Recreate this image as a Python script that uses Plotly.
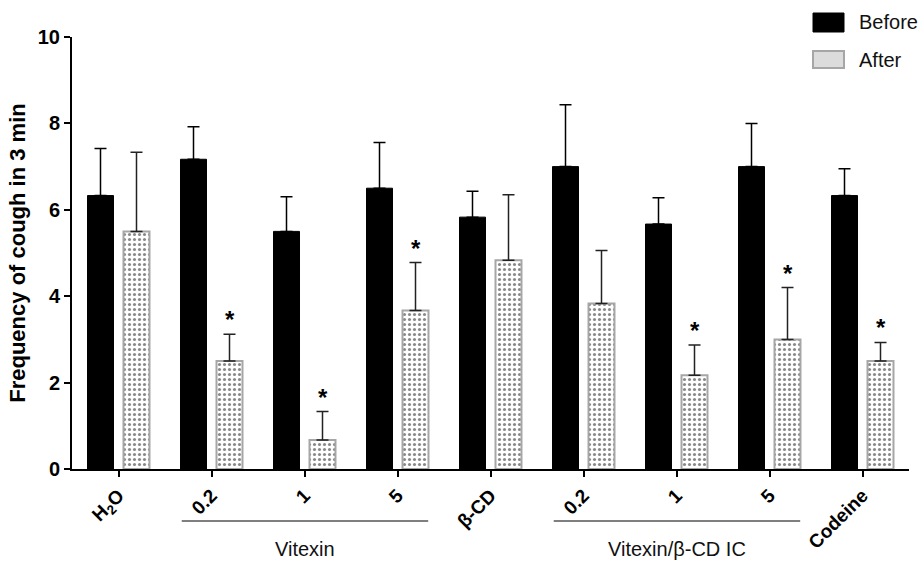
import plotly.graph_objects as go

# ---- data ----
tick_labels = ["H<sub>2</sub>O", "0.2", "1", "5", "β-CD", "0.2", "1", "5", "Codeine"]
before = [6.33, 7.17, 5.50, 6.50, 5.83, 7.00, 5.67, 7.00, 6.33]
before_err = [1.09, 0.75, 0.80, 1.06, 0.60, 1.43, 0.61, 1.00, 0.62]
after = [5.50, 2.50, 0.67, 3.67, 4.83, 3.83, 2.17, 3.00, 2.50]
after_err = [1.83, 0.62, 0.66, 1.11, 1.52, 1.23, 0.70, 1.20, 0.43]
significant = [False, True, True, True, False, False, True, True, True]
groups = [("Vitexin", 1, 3), ("Vitexin/β-CD IC", 5, 7)]
y_ticks = [0, 2, 4, 6, 8, 10]

W, H = 921, 562
ML, MR, MT, MB = 72, 12, 37, 93
BARGAP = 0.226
FONT = "Liberation Sans, Arial, sans-serif"

xs = list(range(len(tick_labels)))

fig = go.Figure()
fig.add_bar(
    x=xs, y=before, name="Before",
    marker=dict(color="black", line=dict(color="black", width=1)),
    error_y=dict(type="data", symmetric=False, array=before_err,
                 arrayminus=[0] * len(before), color="black", thickness=1.5, width=6),
    showlegend=False,
)
fig.add_bar(
    x=xs, y=after, name="After",
    marker=dict(color="white", line=dict(color="#a6a6a6", width=2),
                pattern=dict(shape=".", fgcolor="#111", bgcolor="white", size=5, solidity=0.3)),
    error_y=dict(type="data", symmetric=False, array=after_err,
                 arrayminus=[0] * len(after), color="#222", thickness=1.5, width=6),
    showlegend=False,
)

# significance stars above the After bars
off = (1 - BARGAP) / 4
for i, s in enumerate(significant):
    if s:
        fig.add_annotation(x=i + off, y=after[i] + after_err[i], xref="x", yref="y",
                           text="*", showarrow=False, yanchor="bottom", yshift=-1,
                           font=dict(family=FONT, size=24, color="black", weight="bold"))

# group brackets
pw = W - ML - MR
ph = H - MT - MB
def py(p):  # pixel y -> paper
    return (H - MB - p) / ph
def px(p):  # pixel x -> paper
    return (p - ML) / pw

for label, a, b in groups:
    fig.add_shape(type="line", xref="x", yref="paper", x0=a - 0.32, x1=b + 0.33,
                  y0=py(521), y1=py(521), line=dict(color="#555", width=1.5))
    fig.add_annotation(x=(a + b) / 2, y=py(549), xref="x", yref="paper", text=label,
                       xanchor="center", yanchor="middle", showarrow=False,
                       font=dict(family=FONT, size=20, color="#111"))

# legend (drawn manually to match the large swatches)
legend = [("Before", 13, 32, dict(fillcolor="black", line=dict(color="black", width=1))),
          ("After", 51, 68, dict(fillcolor="#dcdcdc", line=dict(color="#a6a6a6", width=2)))]
for name, y0, y1, style in legend:
    fig.add_shape(type="rect", xref="paper", yref="paper", x0=px(813), x1=px(844),
                  y0=py(y1), y1=py(y0), **style)
    fig.add_annotation(xref="paper", yref="paper", x=px(857), y=py((y0 + y1) / 2),
                       xanchor="left", yanchor="middle", text=name, showarrow=False,
                       font=dict(family=FONT, size=20, color="#111"))

fig.update_layout(
    width=W, height=H,
    margin=dict(l=ML, r=MR, t=MT, b=MB),
    paper_bgcolor="white", plot_bgcolor="white",
    barmode="group", bargap=BARGAP, bargroupgap=0.278,
    font=dict(family=FONT, color="black"),
    xaxis=dict(range=[-0.5, len(xs) - 0.5], tickvals=xs, ticktext=tick_labels,
               tickangle=-45, ticks="outside", ticklen=6, tickwidth=2, tickcolor="black",
               showline=True, linewidth=2, linecolor="black", showgrid=False, zeroline=False,
               automargin=False,
               tickfont=dict(family=FONT, size=19, color="black", weight="bold")),
    yaxis=dict(range=[0, 10], tickvals=y_ticks, ticks="outside", ticklen=6, tickwidth=2,
               tickcolor="black", showline=True, linewidth=2, linecolor="black",
               showgrid=False, zeroline=False, automargin=False,
               tickfont=dict(family=FONT, size=20, color="black", weight="bold"),
               title=dict(text="Frequency of cough in 3 min", standoff=6,
                          font=dict(family=FONT, size=22, color="black", weight="bold"))),
)

fig.write_html("out.html")
